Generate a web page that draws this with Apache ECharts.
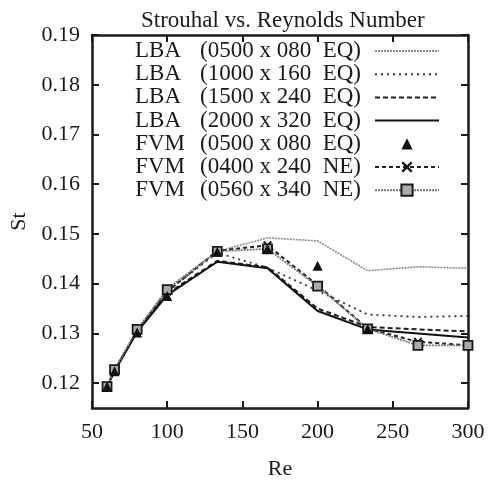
<!DOCTYPE html>
<html>
<head>
<meta charset="utf-8">
<script src="https://cdn.jsdelivr.net/npm/echarts@6/dist/echarts.min.js"></script>
<style>html,body{margin:0;padding:0;background:#fff;}#c{width:489px;height:485px;}</style>
</head>
<body>
<div id="c"></div>
<script>
var xTicks = [50, 100, 150, 200, 250, 300];
var yTicks = [0.12, 0.13, 0.14, 0.15, 0.16, 0.17, 0.18, 0.19];
var re = [60, 65, 80, 100, 133.3, 166.7, 200, 233.3, 266.7, 300];

var lba0500 = [0.1193, 0.1225, 0.1305, 0.1390, 0.1465, 0.1492, 0.1486, 0.1426, 0.1434, 0.1431];
var lba1000 = [0.1193, 0.1225, 0.1305, 0.1385, 0.1462, 0.1432, 0.1386, 0.1338, 0.1333, 0.1335];
var lba1500 = [0.1193, 0.1225, 0.1304, 0.1380, 0.1446, 0.1433, 0.1350, 0.1313, 0.1308, 0.1304];
var lba2000 = [0.1193, 0.1224, 0.1303, 0.1377, 0.1444, 0.1431, 0.1345, 0.1308, 0.1300, 0.1292];
var fvm0500Re = [60, 65, 80, 100, 133.3, 166.7, 200, 233.3];
var fvm0500 = [0.1193, 0.1224, 0.1302, 0.1375, 0.1464, 0.1470, 0.1436, 0.1309];
var fvm0400 = [0.1194, 0.1226, 0.1306, 0.1384, 0.1466, 0.1477, 0.1397, 0.1310, 0.1283, 0.1276];
var fvm0560 = [0.1193, 0.1227, 0.1308, 0.1388, 0.1465, 0.1470, 0.1395, 0.1309, 0.1276, 0.1276];

var names = [
  ['LBA', '(0500 x 080  EQ)'],
  ['LBA', '(1000 x 160  EQ)'],
  ['LBA', '(1500 x 240  EQ)'],
  ['LBA', '(2000 x 320  EQ)'],
  ['FVM', '(0500 x 080  EQ)'],
  ['FVM', '(0400 x 240  NE)'],
  ['FVM', '(0560 x 340  NE)']
];
function nm(i){ return names[i][0] + ' ' + names[i][1]; }
function pairs(xs, ys){ return ys.map(function(v,i){ return [xs[i], v]; }); }

var FONT = '"Liberation Serif", "DejaVu Serif", serif';
var INK = '#1a1a1a';
var xPath = 'path://M0,1.5L1.5,0L5,3.5L8.5,0L10,1.5L6.5,5L10,8.5L8.5,10L5,6.5L1.5,10L0,8.5L3.5,5Z';

function axisCommon(show){
  return {
    axisLine: {show: true, onZero: false, lineStyle: {color: INK, width: 2.5}},
    axisTick: {show: true, inside: true, length: 7, lineStyle: {color: INK, width: 2}},
    splitLine: {show: false},
    axisLabel: {show: show, color: INK, fontFamily: FONT, fontSize: 22}
  };
}

var xA = Object.assign(axisCommon(true), {type: 'value', min: 50, max: 300, position: 'bottom',
  name: 'Re', nameLocation: 'middle', nameGap: 50,
  nameTextStyle: {color: INK, fontFamily: FONT, fontSize: 22}});
xA.axisTick.customValues = xTicks; xA.axisLabel.customValues = xTicks; xA.axisLabel.margin = 13;
var xB = Object.assign(axisCommon(false), {type: 'value', min: 50, max: 300, position: 'top'});
xB.axisTick.customValues = xTicks;

var yA = Object.assign(axisCommon(true), {type: 'value', min: 0.115, max: 0.19, position: 'left',
  name: 'St', nameLocation: 'middle', nameGap: 62, nameRotate: 90,
  nameTextStyle: {color: INK, fontFamily: FONT, fontSize: 22}});
yA.axisTick.customValues = yTicks; yA.axisLabel.customValues = yTicks; yA.axisLabel.margin = 12;
yA.axisLabel.formatter = function(v){ return v.toFixed(2); };
var yB = Object.assign(axisCommon(false), {type: 'value', min: 0.115, max: 0.19, position: 'right'});
yB.axisTick.customValues = yTicks;

var CLEAR = 'rgba(0,0,0,0)';
var chart = echarts.init(document.getElementById('c'), null, {renderer: 'canvas'});
chart.setOption({
  backgroundColor: '#fff',
  animation: false,
  title: {
    text: 'Strouhal vs. Reynolds Number', left: 136, top: 4,
    textStyle: {color: INK, fontFamily: FONT, fontSize: 23, fontWeight: 'normal'}
  },
  grid: {left: 85, right: 21, top: 35, bottom: 75, containLabel: false},
  xAxis: [xA, xB],
  yAxis: [yA, yB],
  legend: {
    orient: 'vertical', align: 'right', right: 49, top: 39.5, padding: 0,
    itemWidth: 64, itemHeight: 14, itemGap: 0.2,
    formatter: function(n){
      for (var i = 0; i < names.length; i++) if (nm(i) === n)
        return '{' + (names[i][0] === 'LBA' ? 'l' : 'f') + '|' + names[i][0] + '}{b|' + names[i][1] + '}';
      return n;
    },
    textStyle: {
      color: INK, fontFamily: FONT, fontSize: 23, lineHeight: 23, padding: [0, 9, 0, 0],
      rich: {
        l: {padding: [0, 19, 0, 0], fontFamily: FONT, fontSize: 23, lineHeight: 23, color: INK},
        f: {padding: [0, 15, 0, 0], fontFamily: FONT, fontSize: 23, lineHeight: 23, color: INK},
        b: {fontFamily: FONT, fontSize: 23, lineHeight: 23, color: INK}
      }
    },
    data: [nm(0), nm(1), nm(2), nm(3), nm(4), nm(5), nm(6)]
  },
  series: [
    {name: nm(0), type: 'line', data: pairs(re, lba0500), symbol: 'none', z: 2,
     lineStyle: {color: '#8a8a8a', width: 1.6, type: [2, 1]}, itemStyle: {color: CLEAR}},
    {name: nm(1), type: 'line', data: pairs(re, lba1000), symbol: 'none', z: 2,
     lineStyle: {color: '#333', width: 1.8, type: [2, 4]}, itemStyle: {color: CLEAR}},
    {name: nm(2), type: 'line', data: pairs(re, lba1500), symbol: 'none', z: 2,
     lineStyle: {color: '#222', width: 2, type: [5, 3]}, itemStyle: {color: CLEAR}},
    {name: nm(3), type: 'line', data: pairs(re, lba2000), symbol: 'none', z: 2,
     lineStyle: {color: '#111', width: 2, type: 'solid'}, itemStyle: {color: CLEAR}},
    {name: nm(4), type: 'line', data: pairs(fvm0500Re, fvm0500), symbol: 'triangle', symbolSize: 10, showSymbol: true, z: 4,
     lineStyle: {opacity: 0, width: 0}, itemStyle: {color: '#111'}},
    {name: nm(5), type: 'line', data: pairs(re, fvm0400), symbol: xPath, symbolSize: 9, showSymbol: true, z: 3,
     lineStyle: {color: '#222', width: 2, type: [4, 3]}, itemStyle: {color: '#111'}},
    {name: nm(6), type: 'line', data: pairs(re, fvm0560), symbol: 'rect', symbolSize: 9, showSymbol: true, z: 3,
     lineStyle: {color: '#777', width: 1.8, type: [2, 1]},
     itemStyle: {color: '#aaa', borderColor: '#1a1a1a', borderWidth: 1.8}}
  ]
});
</script>
</body>
</html>
